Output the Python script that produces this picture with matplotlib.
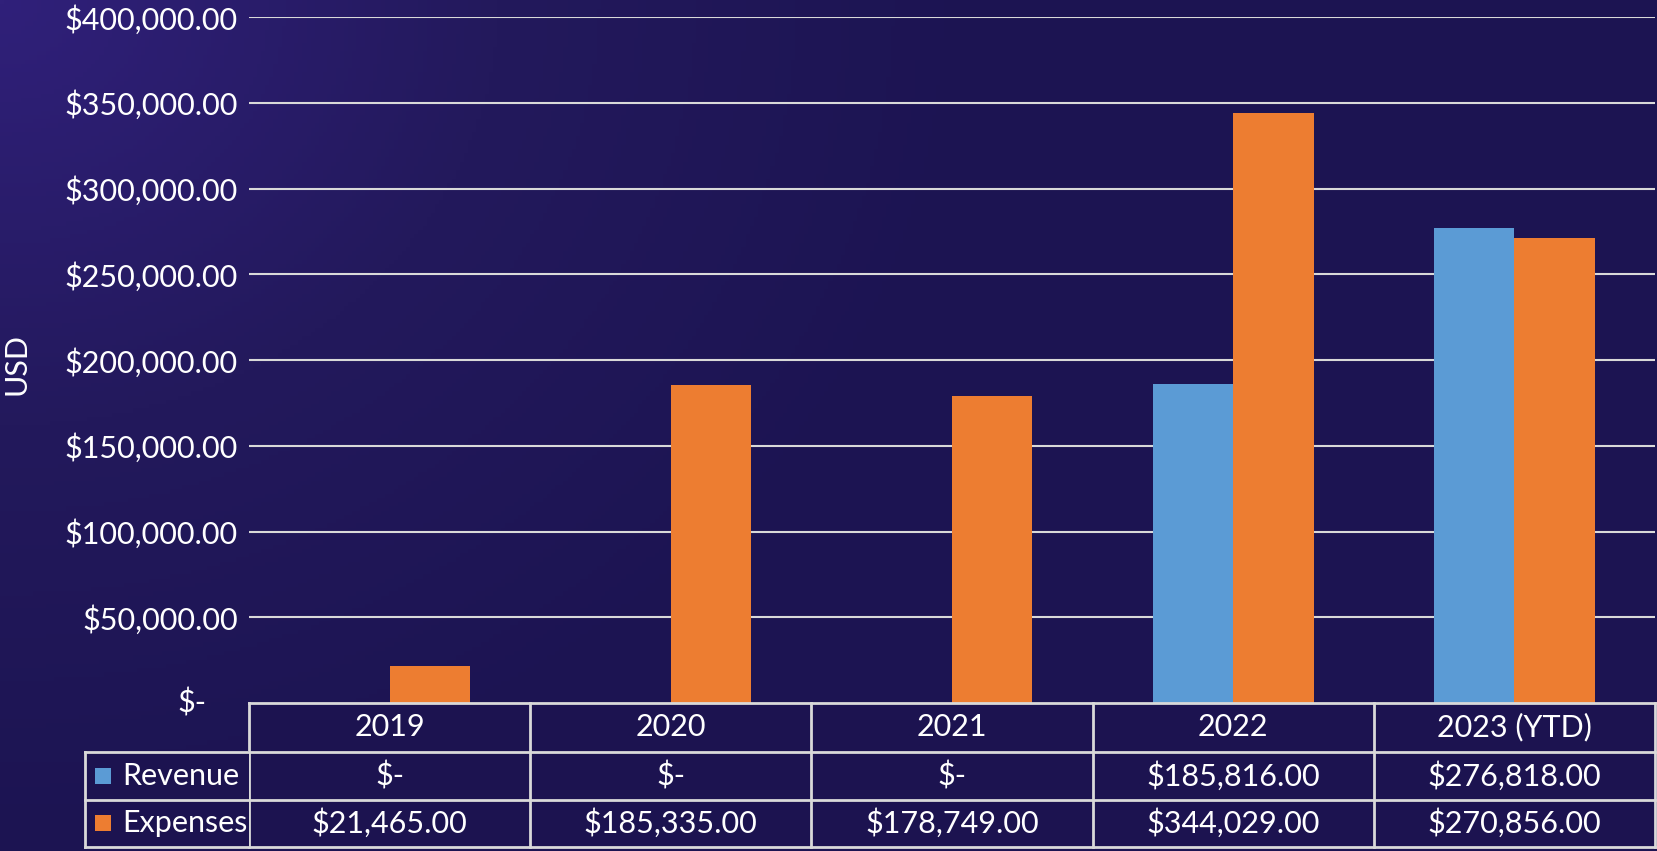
import matplotlib.pyplot as plt
import numpy as np
from matplotlib.colors import LinearSegmentedColormap
from matplotlib.transforms import blended_transform_factory

# data
years = ['2019', '2020', '2021', '2022', '2023 (YTD)']
revenue = [0, 0, 0, 185816, 276818]
expenses = [21465, 185335, 178749, 344029, 270856]
y_ticks = [0, 50000, 100000, 150000, 200000, 250000, 300000, 350000, 400000]

rev_color = '#5b9bd5'
exp_color = '#ed7d31'
line_color = '#d9d9d9'
fs = 22
plt.rcParams['font.family'] = ['Lato', 'DejaVu Sans']

W, H = 1657, 851
fig = plt.figure(figsize=(W / 100, H / 100), dpi=100)

# background gradient (purple top-left fading to navy)
bg = fig.add_axes([0, 0, 1, 1], zorder=-10)
gx, gy = np.meshgrid(np.linspace(0, 1, 400), np.linspace(0, 1, 200))
dist = np.clip(np.sqrt((gx / 0.6) ** 2 + (gy / 1.0) ** 2), 0, 1)
cmap = LinearSegmentedColormap.from_list('bg', ['#30207a', '#23195c', '#1c1452'])
bg.imshow(dist, cmap=cmap, aspect='auto', extent=[0, 1, 1, 0])
bg.set_axis_off()

def fx(px):
    return px / W

def fy(py):
    return 1 - py / H

left, right, top, bottom = 249, 1655, 17, 703
ax = fig.add_axes([fx(left), fy(bottom), fx(right) - fx(left), fy(top) - fy(bottom)])
ax.set_facecolor('none')

x = np.arange(len(years))
bw = 0.286
ax.bar(x - bw / 2, revenue, bw, color=rev_color, zorder=3)
ax.bar(x + bw / 2, expenses, bw, color=exp_color, zorder=3)

ax.set_xlim(-0.5, len(years) - 0.5)
ax.set_ylim(0, 400000)
ax.set_yticks(y_ticks)
ax.set_yticklabels(['' if v == 0 else '${:,.2f}'.format(v) for v in y_ticks])
ax.tick_params(axis='y', length=0, pad=8, labelsize=fs, labelcolor='white')
ax.set_xticks([])
for v in y_ticks[1:]:
    ax.axhline(v, color=line_color, lw=1.5, zorder=1)
for s in ax.spines.values():
    s.set_visible(False)
fig.text(fx(206), fy(703), '$-', color='white', fontsize=fs, ha='right', va='center')
fig.text(fx(16), fy(364), 'USD', color='white', fontsize=fs, rotation=90, ha='center', va='center')

# data table under the plot
rows = [703, 751.5, 800, 846.5]
tr = blended_transform_factory(ax.transData, fig.transFigure)
cell_bg = '#1c1350'
lw = 2
# cell backgrounds
fig.patches.append(plt.Rectangle((fx(84.5), fy(rows[3])), fx(left) - fx(84.5),
                                 fy(rows[1]) - fy(rows[3]), transform=fig.transFigure,
                                 facecolor=cell_bg, edgecolor='none', zorder=0))
ax.add_patch(plt.Rectangle((-0.5, fy(rows[3])), len(years), fy(rows[0]) - fy(rows[3]),
                           transform=tr, facecolor=cell_bg, edgecolor='none',
                           clip_on=False, zorder=0))
# horizontal borders
ax.plot([-0.5, len(years) - 0.5], [fy(rows[0])] * 2, transform=tr, color=line_color,
        lw=lw, clip_on=False, zorder=5)
for r in rows[1:]:
    fig.add_artist(plt.Line2D([fx(84.5), fx(right)], [fy(r), fy(r)], color=line_color, lw=lw))
# vertical borders
fig.add_artist(plt.Line2D([fx(84.5), fx(84.5)], [fy(rows[1]), fy(rows[3])], color=line_color, lw=lw))
for i in range(len(years) + 1):
    ax.plot([i - 0.5, i - 0.5], [fy(rows[0]), fy(rows[3])], transform=tr,
            color=line_color, lw=lw, clip_on=False, zorder=5)

def money(v):
    return '$-' if v == 0 else '${:,.2f}'.format(v)

for i, yr in enumerate(years):
    ax.text(i, fy((rows[0] + rows[1]) / 2), yr, transform=tr, color='white',
            fontsize=fs, ha='center', va='center')
    ax.text(i, fy((rows[1] + rows[2]) / 2), money(revenue[i]), transform=tr,
            color='white', fontsize=fs, ha='center', va='center')
    ax.text(i, fy((rows[2] + rows[3]) / 2), money(expenses[i]), transform=tr,
            color='white', fontsize=fs, ha='center', va='center')

for (name, col), (r0, r1) in zip([('Revenue', rev_color), ('Expenses', exp_color)],
                                 [(rows[1], rows[2]), (rows[2], rows[3])]):
    yc = (r0 + r1) / 2
    fig.patches.append(plt.Rectangle((fx(95), fy(yc + 8)), fx(16), fy(0) - fy(16),
                                     transform=fig.transFigure, facecolor=col,
                                     edgecolor='none'))
    fig.text(fx(122), fy(yc), name, color='white', fontsize=fs, ha='left', va='center')

fig.savefig('out.png', dpi=100)
